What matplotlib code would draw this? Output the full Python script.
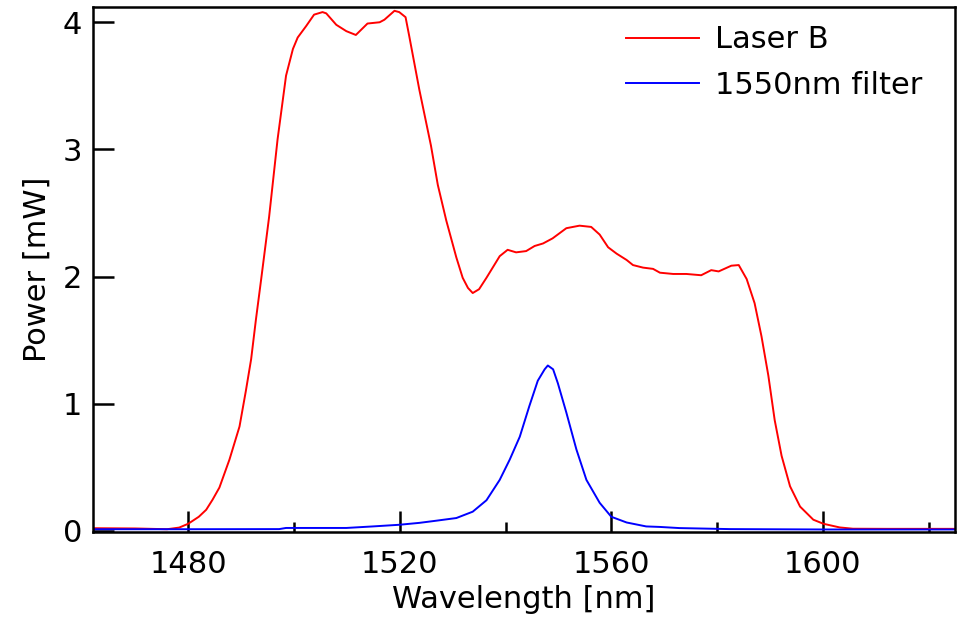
import matplotlib.pyplot as plt
from matplotlib.ticker import MultipleLocator

# Laser B spectrum
laser_nm = [1462, 1470, 1476, 1478.3, 1480, 1482.0, 1483.4, 1484.6, 1485.9, 1487.8, 1489.7, 1490.9,
            1491.9, 1492.8, 1493.8, 1495.3, 1496.9, 1498.5, 1499.8, 1500.7, 1502.3, 1503.8,
            1505.4, 1506.1, 1508.0, 1509.9, 1511.7, 1513.9, 1516.2, 1517.1, 1519.0, 1519.9,
            1521.1, 1521.8, 1523.7, 1525.9, 1527.2, 1528.8, 1530.7, 1531.9, 1532.9, 1533.8,
            1535.0, 1536.4, 1538.9, 1540.4, 1542.0, 1543.9, 1545.5, 1547.1, 1548.9, 1551.5,
            1554.0, 1556.2, 1557.8, 1559.4, 1561.0, 1562.9, 1564.1, 1566.0, 1567.9, 1569.2,
            1571.7, 1574.2, 1577.0, 1578.9, 1580.3, 1582.7, 1584.1, 1585.6, 1587.1, 1588.4,
            1589.7, 1590.9, 1592.2, 1593.8, 1595.7, 1598.2, 1600.1, 1603.2, 1605.7, 1612, 1625]
laser_mw = [0.02, 0.018, 0.012, 0.025, 0.055, 0.11, 0.165, 0.244, 0.34, 0.56, 0.82, 1.10,
            1.35, 1.66, 1.98, 2.47, 3.08, 3.58, 3.79, 3.88, 3.97, 4.06,
            4.08, 4.07, 3.98, 3.93, 3.90, 3.99, 4.00, 4.02, 4.09, 4.08,
            4.04, 3.89, 3.47, 3.03, 2.72, 2.44, 2.15, 1.99, 1.91, 1.87,
            1.90, 1.99, 2.16, 2.21, 2.19, 2.20, 2.24, 2.26, 2.30, 2.38,
            2.40, 2.39, 2.33, 2.23, 2.18, 2.13, 2.09, 2.07, 2.06, 2.03,
            2.02, 2.02, 2.01, 2.05, 2.04, 2.085, 2.09, 1.98, 1.79, 1.53,
            1.22, 0.87, 0.59, 0.35, 0.19, 0.087, 0.055, 0.026, 0.016, 0.015, 0.015]

# 1550nm filter output
filter_nm = [1462, 1480, 1497.2, 1498.5, 1509.9, 1514.9, 1519.9, 1523.7, 1526.9, 1530.7,
             1533.8, 1536.4, 1538.9, 1540.8, 1542.7, 1544.5, 1546.1, 1547.4, 1548.0, 1549.0,
             1549.9, 1551.5, 1553.4, 1555.3, 1557.8, 1560.0, 1562.9, 1566.6, 1569.2, 1572.9,
             1582.4, 1600, 1625]
filter_mw = [0.012, 0.012, 0.013, 0.022, 0.022, 0.034, 0.047, 0.062, 0.079, 0.10,
             0.15, 0.24, 0.40, 0.56, 0.74, 0.98, 1.18, 1.27, 1.30, 1.27,
             1.16, 0.93, 0.64, 0.40, 0.22, 0.11, 0.065, 0.034, 0.03, 0.021,
             0.013, 0.01, 0.01]

fs = 22
fig = plt.figure(figsize=(9.58, 6.2), dpi=100)
ax = fig.add_axes([0.0971, 0.1419, 0.8998, 0.8468])

ax.plot(laser_nm, laser_mw, color='#ff0000', lw=1.4, label='Laser B')
ax.plot(filter_nm, filter_mw, color='#0000ff', lw=1.4, label='1550nm filter')

ax.set_xlim(1462, 1625)
ax.set_ylim(-0.01, 4.12)
ax.xaxis.set_major_locator(MultipleLocator(40))
ax.xaxis.set_minor_locator(MultipleLocator(20))
ax.yaxis.set_major_locator(MultipleLocator(1))
ax.tick_params(which='both', direction='in', width=1.8, labelsize=fs, color='black')
ax.tick_params(which='major', length=15)
ax.tick_params(which='minor', length=7)
ax.tick_params(axis='x', pad=13)
ax.tick_params(axis='y', pad=8)
for s in ax.spines.values():
    s.set_linewidth(1.8)

ax.set_xlabel('Wavelength [nm]', fontsize=fs, labelpad=4)
ax.set_ylabel('Power [mW]', fontsize=fs, labelpad=8)

ax.legend(loc='upper left', bbox_to_anchor=(0.618, 0.965), frameon=False, fontsize=fs,
          handlelength=2.4, handletextpad=0.52, labelspacing=0.55, borderpad=0,
          borderaxespad=0)

fig.savefig('out.png', dpi=100)
